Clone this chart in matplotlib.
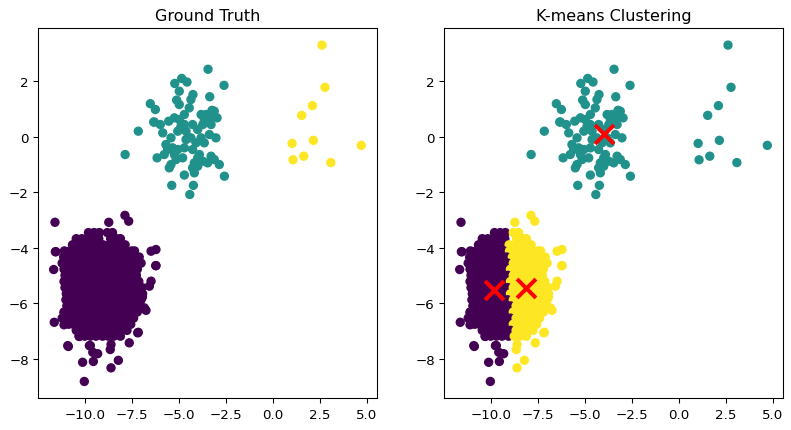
import numpy as np
import matplotlib
matplotlib.use("Agg")
import matplotlib.pyplot as plt

# ---- data ----
# large (purple) blob: rows of x values at given y
blob_row_y = [-3.45, -3.67, -3.89, -4.11, -4.33, -4.55, -4.77, -4.99, -5.21,
              -5.43, -5.65, -5.87, -6.09, -6.31, -6.53, -6.75, -6.97, -7.18]
blob_row_x = [
    [-9.80, -9.50, -9.22, -8.80, -8.52],
    [-10.45, -10.15, -9.85, -9.55, -9.25, -8.62, -8.30, -8.10],
    [-10.65, -10.40, -10.22, -9.90, -9.62, -9.33, -9.02, -8.70, -8.42, -8.12, -7.85],
    [-11.08, -10.78, -10.48, -10.20, -9.88, -9.60, -9.30, -9.00, -8.70, -8.40, -8.10, -7.80, -7.50, -7.35],
    [-11.12, -10.92, -10.62, -10.33, -10.05, -9.75, -9.45, -9.15, -8.85, -8.55, -8.25, -7.95, -7.65, -7.35, -7.10],
    [-11.20, -10.90, -10.60, -10.30, -10.00, -9.70, -9.40, -9.10, -8.80, -8.50, -8.20, -7.90, -7.60, -7.30, -7.00],
    [-11.10, -10.75, -10.45, -10.15, -9.85, -9.55, -9.25, -8.95, -8.65, -8.35, -8.05, -7.75, -7.45, -7.20],
    [-11.05, -10.90, -10.60, -10.30, -10.00, -9.70, -9.40, -9.10, -8.80, -8.50, -8.20, -7.90, -7.60, -7.25],
    [-11.10, -10.78, -10.45, -10.15, -9.85, -9.55, -9.25, -8.95, -8.65, -8.35, -8.05, -7.75, -7.45, -7.12],
    [-11.05, -10.90, -10.60, -10.30, -10.00, -9.70, -9.40, -9.10, -8.80, -8.50, -8.20, -7.90, -7.60, -7.30, -6.95],
    [-10.98, -10.75, -10.45, -10.15, -9.85, -9.55, -9.25, -8.95, -8.65, -8.35, -8.05, -7.75, -7.45, -7.15, -6.92],
    [-11.00, -10.90, -10.60, -10.30, -10.00, -9.70, -9.40, -9.10, -8.80, -8.50, -8.20, -7.90, -7.60, -7.30, -7.00],
    [-10.95, -10.75, -10.45, -10.15, -9.85, -9.55, -9.25, -8.95, -8.65, -8.35, -8.05, -7.75, -7.45, -7.10],
    [-11.10, -10.90, -10.60, -10.30, -10.00, -9.70, -9.40, -9.10, -8.80, -8.50, -8.20, -7.90, -7.60, -7.20],
    [-11.20, -10.82, -10.45, -10.15, -9.85, -9.55, -9.25, -8.95, -8.65, -8.35, -8.05, -7.75, -7.40],
    [-10.85, -10.60, -10.30, -10.00, -9.70, -9.40, -9.10, -8.80, -8.50, -8.20, -7.90, -7.55],
    [-10.45, -10.15, -9.85, -9.55, -9.25, -8.95, -8.65, -8.35, -8.05, -7.75],
    [-10.30, -10.00, -9.70, -9.40, -9.05, -8.75, -8.45, -8.10],
]
# scattered points around the blob
blob_extra_x = [-11.58, -8.72, -7.86, -7.66, -11.56, -11.53, -11.65, -6.47, -6.21,
                -6.22, -6.21, -6.47, -6.56, -6.93, -6.83, -6.74, -7.18, -11.62, -11.10,
                -11.09, -10.87, -10.90, -9.75, -9.70, -9.57, -9.31, -10.11, -9.54,
                -10.02, -8.60, -8.60, -8.21, -8.64, -7.63, -7.15, -10.29]
blob_extra_y = [-3.08, -3.08, -2.83, -3.04, -4.14, -4.14, -4.78, -4.12, -4.06,
                -4.64, -4.64, -5.20, -5.38, -5.77, -6.16, -6.25, -7.06, -6.68, -6.77,
                -6.34, -7.55, -7.52, -7.52, -7.52, -7.76, -7.81, -8.12, -8.09,
                -8.81, -8.32, -7.48, -8.05, -7.66, -7.42, -7.04, -7.19]

# teal cluster
teal_x = [-3.44, -2.59, -4.84, -5.21, -4.56, -4.97, -4.24, -4.35, -3.35, -5.11,
          -4.97, -6.51, -6.24, -3.23, -3.81, -3.55, -2.96, -4.70, -5.23, -5.53,
          -6.30, -7.15, -5.98, -4.88, -4.26, -3.72, -3.28, -5.05, -4.61, -3.99,
          -5.85, -5.41, -4.35, -3.81, -3.02, -3.37, -5.68, -4.08, -3.64, -5.59,
          -5.05, -4.70, -4.26, -5.77, -5.23, -6.15, -4.79, -3.99, -3.28, -3.11,
          -3.72, -4.17, -5.41, -2.84, -4.26, -5.50, -3.99, -4.17, -4.70, -2.57,
          -5.37, -4.22, -4.41, -4.97, -3.64, -3.11, -5.32, -4.61, -5.14, -3.46,
          -3.90, -3.28, -4.70, -4.44, -7.85, -6.33]
teal_y = [2.43, 1.85, 2.10, 1.92, 1.97, 1.64, 1.52, 1.34, 1.44, 1.32,
          1.16, 1.19, 0.98, 0.95, 0.80, 0.80, 0.68, 0.80, 0.68, 0.56,
          0.53, 0.20, 0.44, 0.38, 0.44, 0.44, 0.44, 0.20, 0.20, 0.26,
          0.14, -0.04, -0.04, -0.04, -0.04, 0.08, -0.28, -0.22, -0.22, -0.46,
          -0.46, -0.40, -0.46, -0.64, -0.64, -0.76, -0.76, -0.76, -0.70, -0.82,
          -0.88, -0.94, -1.00, -1.00, -1.12, -1.12, -1.06, -1.30, -1.38, -1.42,
          -1.75, -1.75, -2.08, 0.62, 0.62, 0.92, -0.40, -0.10, -0.82, -0.94,
          -0.64, 0.68, 0.44, 1.04, -0.64, 0.53]

# small yellow cluster
small_x = [2.62, 2.78, 2.11, 1.54, 1.03, 2.16, 4.71, 1.08, 1.65, 3.09]
small_y = [3.30, 1.78, 1.12, 0.77, -0.24, -0.13, -0.31, -0.83, -0.70, -0.93]

# K-means centroids (label order: 0 = left blob, 1 = teal, 2 = right blob)
centroid_x = [-9.80, -3.95, -8.14]
centroid_y = [-5.52, 0.10, -5.44]

titles = ["Ground Truth", "K-means Clustering"]

# ---- assemble ----
bx, by = [], []
for yv, xs in zip(blob_row_y, blob_row_x):
    bx += xs
    by += [yv] * len(xs)
bx += blob_extra_x
by += blob_extra_y

X = np.array(bx + teal_x + small_x)
Y = np.array(by + teal_y + small_y)
truth = np.array([0] * len(bx) + [1] * len(teal_x) + [2] * len(small_x))

cx = np.array(centroid_x)
cy = np.array(centroid_y)
d = (X[:, None] - cx[None, :]) ** 2 + (Y[:, None] - cy[None, :]) ** 2
pred = d.argmin(axis=1)

# ---- plot ----
plt.rcParams['font.family'] = ['DejaVu Sans']
fig = plt.figure(figsize=(7.91, 4.31), dpi=100)
ax1 = fig.add_axes([0.0484, 0.0736, 0.4278, 0.8585])
ax2 = fig.add_axes([0.5617, 0.0736, 0.4278, 0.8585])

s_pt = 33.2
ax1.scatter(X, Y, c=truth, cmap='viridis', s=s_pt, linewidths=0.96)
ax1.set_title(titles[0], fontsize=11.5)
ax2.scatter(X, Y, c=pred, cmap='viridis', s=s_pt, linewidths=0.96)
ax2.scatter(cx, cy, c='red', marker='x', s=184, linewidths=2.88)
ax2.set_title(titles[1], fontsize=11.5)

ax1.set_xticks([-10, -7.5, -5, -2.5, 0, 2.5, 5])
ax2.set_xticks([-10, -7.5, -5, -2.5, 0, 2.5, 5])
ax1.set_yticks([-8, -6, -4, -2, 0, 2])
ax2.set_yticks([-8, -6, -4, -2, 0, 2])

for ax in (ax1, ax2):
    ax.tick_params(labelsize=9.6, length=3.36, width=0.77)
    for sp in ax.spines.values():
        sp.set_linewidth(0.77)

fig.savefig("out.png", dpi=100)
